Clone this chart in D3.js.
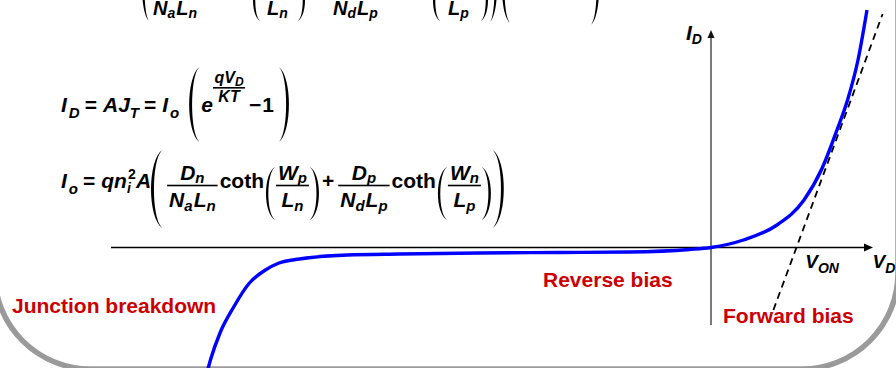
<!DOCTYPE html>
<html>
<head>
<meta charset="utf-8">
<script src="https://cdn.jsdelivr.net/npm/d3@7"></script>
<style>
  html, body { margin: 0; padding: 0; background: #fff; }
  svg { display: block; }
  text { font-family: "Liberation Sans", Arial, sans-serif; font-weight: bold; }
</style>
</head>
<body>
<svg id="chart" width="896" height="368"></svg>
<script>
// Diode I–V characteristic (V_D in volts, I_D in mA, sketch units)
const vD = [-4.2, -4.17, -4.09, -3.98, -3.85, -3.72, -3.6, -3.43, -3.03, -2.6, -1.93, -1.26, -0.68, -0.18, 0, 0.27, 0.55, 0.775, 0.925, 1.05, 1.138, 1.225, 1.3];
const iD = [-12.5, -11.2, -8.5, -6.0, -3.6, -2.3, -1.55, -1.15, -0.75, -0.65, -0.55, -0.5, -0.45, -0.2, 0, 0.75, 2.25, 4.75, 7.9, 11.75, 14.75, 18.75, 23.75];

// Straight-line extrapolation of the forward branch; it meets the V axis at V_ON
const vTangent = [0.52, 1.43];
const iTangent = [-6.25, 23.35];
const vOn = 0.71;

// Axis extents
const vAxis = [-5, 1.35];
const iAxis = [-7.75, 21.75];

// Region annotations
const regionLabels = ["Junction breakdown", "Reverse bias", "Forward bias"];

const svg = d3.select("#chart");

const x = d3.scaleLinear().domain([-5, 1.55]).range([111, 897]);
const y = d3.scaleLinear().domain([0, 10]).range([247.5, 147.5]);

// Slide frame (rounded corners visible at the bottom)
svg.append("rect")
  .attr("x", -5.5).attr("y", -400)
  .attr("width", 903.5).attr("height", 769)
  .attr("rx", 96).attr("ry", 96)
  .attr("fill", "none").attr("stroke", "#9a9a9a").attr("stroke-width", 5.5);

// ---------- formula helpers ----------
const g = svg.append("g");

function put(s, px, yb, size, italic) {
  const t = g.append("text").attr("x", px).attr("y", yb)
    .attr("font-size", size)
    .attr("font-style", italic ? "italic" : "normal")
    .attr("fill", "#000").text(s);
  return t.node().getComputedTextLength();
}

// stretchy bracket drawn as a filled crescent
function paren(px, top, bot, w, open, thick) {
  const t = thick || 2.2;
  const h = bot - top;
  const endX = open ? px + w : px;
  const bulge = open ? px : px + w;
  const inner = open ? bulge + t : bulge - t;
  const c = (target) => (target - 0.25 * endX) / 0.75;
  const y1 = top + h * 0.14, y2 = bot - h * 0.14;
  const e = open ? -0.5 : 0.5;
  const p = d3.path();
  p.moveTo(endX, top);
  p.bezierCurveTo(c(bulge), y1, c(bulge), y2, endX, bot);
  p.lineTo(endX + e, bot - 0.8);
  p.bezierCurveTo(c(inner), y2, c(inner), y1, endX + e, top + 0.8);
  p.closePath();
  g.append("path").attr("d", p.toString()).attr("fill", "#000");
  return w;
}

// lay out a row of pieces: [text, kind] where kind = 'i' italic, 'u' upright, 's' subscript
function row(px, yb, items, size, subSize, subDy) {
  let cx = px;
  for (const it of items) {
    if (typeof it === "number") { cx += it; continue; }
    const [s, k] = it;
    if (k === "s") cx += put(s, cx, yb + subDy, subSize, true);
    else cx += put(s, cx, yb, size, k === "i");
  }
  return cx;
}

function frac(px, yb, num, den, size, subSize, numDy, denDy, barDy, pad, subDy) {
  const tmp = g.append("g");
  const measure = (items) => {
    let w = 0;
    for (const it of items) {
      if (typeof it === "number") { w += it; continue; }
      const t = tmp.append("text").attr("font-size", it[1] === "s" ? subSize : size)
        .attr("font-style", it[1] === "u" ? "normal" : "italic").text(it[0]);
      w += t.node().getComputedTextLength();
    }
    return w;
  };
  const wn = measure(num), wd = measure(den);
  tmp.remove();
  const bw = Math.max(wn, wd) + 2 * pad;
  row(px + (bw - wn) / 2, yb + numDy, num, size, subSize, subDy);
  row(px + (bw - wd) / 2, yb + denDy, den, size, subSize, subDy + 1);
  g.append("rect").attr("x", px).attr("y", yb + barDy - 0.8)
    .attr("width", bw).attr("height", 1.6).attr("fill", "#000");
  return bw;
}

// ---------- lower part of the current-density formula at the top edge ----------
(function () {
  const yb = 14.5;
  paren(142, -45, 21, 7, true, 2.6);
  row(153, yb, [["N", "i"], ["a", "s"], 1, ["L", "i"], ["n", "s"]], 20, 14, 3);
  paren(253, -20, 21, 7, true, 2.4);
  row(267, yb, [["L", "i"], ["n", "s"]], 20, 14, 3);
  paren(298, -20, 21, 7, false, 2.4);
  row(333, yb, [["N", "i"], ["d", "s"], 1, ["L", "i"], ["p", "s"]], 20, 14, 3);
  paren(433, -20, 21, 7, true, 2.4);
  row(448, yb, [["L", "i"], ["p", "s"]], 20, 14, 3);
  paren(481, -20, 21, 7, false, 2.4);
  paren(490, -45, 22, 7, false, 2.6);
  paren(502, -45, 23, 8, true, 2.6);
  paren(591, -45, 25, 8, false, 2.6);
})();

// ---------- I_D = A J_T = I_o ( e^{qV_D/KT} − 1 ) ----------
(function () {
  const yb = 111.7;
  let cx = row(61, yb, [["I", "i"], 2, ["D", "s"], 5, ["=", "u"], 6, ["A", "i"], ["J", "i"], ["T", "s"], 5,
    ["=", "u"], 6, ["I", "i"], 2, ["o", "s"]], 21, 15, 6);
  cx += 10;
  cx += paren(cx, 67, 142, 10, true, 3);
  cx += 2;
  cx += put("e", cx, yb, 21, true);
  cx += frac(cx, yb, [["q", "i"], ["V", "i"], ["D", "s"]], [["K", "i"], ["T", "i"]], 16, 12, -28.3, -9.4, -23.9, 1.5, 3);
  cx += 4;
  cx += put("\u2212", cx, yb, 21, false);
  cx += 1;
  cx += put("1", cx, yb, 21, false);
  cx += 5;
  paren(cx, 67, 142, 10, false, 3);
})();

// ---------- I_o = q n_i^2 A ( D_n/(N_a L_n) coth(W_p/L_n) + D_p/(N_d L_p) coth(W_n/L_p) ) ----------
(function () {
  const yb = 188;
  let cx = row(61, yb, [["I", "i"], 2, ["o", "s"], 5, ["=", "u"], 6, ["q", "i"], ["n", "i"]], 21, 15, 6);
  put("2", cx + 1, yb - 9, 14, false);
  put("i", cx, yb + 5, 14, true);
  cx += 9;
  cx += put("A", cx, yb, 21, true);
  cx += paren(cx, 150, 228, 11, true, 3);
  cx += 5;
  const fr = (num, den) => frac(cx, yb, num, den, 21, 15, -8, 19, -2.5, 2, 3);
  cx += fr([["D", "i"], ["n", "s"]], [["N", "i"], ["a", "s"], 1, ["L", "i"], ["n", "s"]]);
  cx += 2;
  cx += put("coth", cx, yb, 21, false);
  cx += 2;
  cx += paren(cx, 167, 220, 9, true, 2.6);
  cx += 1;
  cx += fr([["W", "i"], ["p", "s"]], [["L", "i"], ["n", "s"]]);
  cx += 1;
  cx += paren(cx, 167, 220, 9, false, 2.6);
  cx += 3;
  cx += put("+", cx, yb, 21, false);
  cx += 4;
  cx += fr([["D", "i"], ["p", "s"]], [["N", "i"], ["d", "s"], 1, ["L", "i"], ["p", "s"]]);
  cx += 2;
  cx += put("coth", cx, yb, 21, false);
  cx += 2;
  cx += paren(cx, 167, 220, 9, true, 2.6);
  cx += 1;
  cx += fr([["W", "i"], ["n", "s"]], [["L", "i"], ["p", "s"]]);
  cx += 1;
  cx += paren(cx, 167, 220, 9, false, 2.6);
  cx += 2;
  paren(cx, 150, 228, 11, false, 3);
})();

// ---------- axes ----------
const x0 = x(0), y0 = y(0);
svg.append("line")
  .attr("x1", x(vAxis[0])).attr("x2", x(vAxis[1]) - 4)
  .attr("y1", y0).attr("y2", y0)
  .attr("stroke", "#000").attr("stroke-width", 1.5);
svg.append("path")
  .attr("d", `M${x(vAxis[1])},${y0} L${x(vAxis[1]) - 9},${y0 - 4} L${x(vAxis[1]) - 9},${y0 + 4} Z`)
  .attr("fill", "#000");

svg.append("line")
  .attr("x1", x0).attr("x2", x0)
  .attr("y1", y(iAxis[0])).attr("y2", y(iAxis[1]) + 5)
  .attr("stroke", "#7a7a7a").attr("stroke-width", 2);
svg.append("path")
  .attr("d", `M${x0},${y(iAxis[1])} L${x0 - 3.5},${y(iAxis[1]) + 8} L${x0 + 3.5},${y(iAxis[1]) + 8} Z`)
  .attr("fill", "#111");

// ---------- tangent and curve ----------
svg.append("line")
  .attr("x1", x(vTangent[0])).attr("y1", y(iTangent[0]))
  .attr("x2", x(vTangent[1])).attr("y2", y(iTangent[1]))
  .attr("stroke", "#000").attr("stroke-width", 1.8)
  .attr("stroke-dasharray", "7,5");

const pts = vD.map((v, k) => [v, iD[k]]);
const line = d3.line().x(d => x(d[0])).y(d => y(d[1])).curve(d3.curveMonotoneX);
svg.append("path")
  .attr("d", line(pts))
  .attr("fill", "none").attr("stroke", "#0000ff").attr("stroke-width", 3.4)
  .attr("stroke-linejoin", "round");

// ---------- axis labels ----------
function subLabel(px, yb, main, sub, size, subSize, dy) {
  const t = svg.append("text").attr("x", px).attr("y", yb)
    .attr("font-size", size).attr("font-style", "italic").attr("fill", "#000");
  t.append("tspan").text(main);
  t.append("tspan").attr("font-size", subSize).attr("dy", dy).text(sub);
}
subLabel(686, 40, "I", "D", 21, 14, 3.5);
subLabel(x(vAxis[1]) - 0.5, 268, "V", "D", 19, 14, 5);
subLabel(x(vOn) + 9, 268, "V", "ON", 19, 14, 5);

// ---------- region labels ----------
const redAt = [[12, 312.5], [543, 287], [723, 323]];
regionLabels.forEach((s, k) => {
  svg.append("text").attr("x", redAt[k][0]).attr("y", redAt[k][1])
    .attr("font-size", 21).attr("fill", "#cc0000").text(s);
});
</script>
</body>
</html>
